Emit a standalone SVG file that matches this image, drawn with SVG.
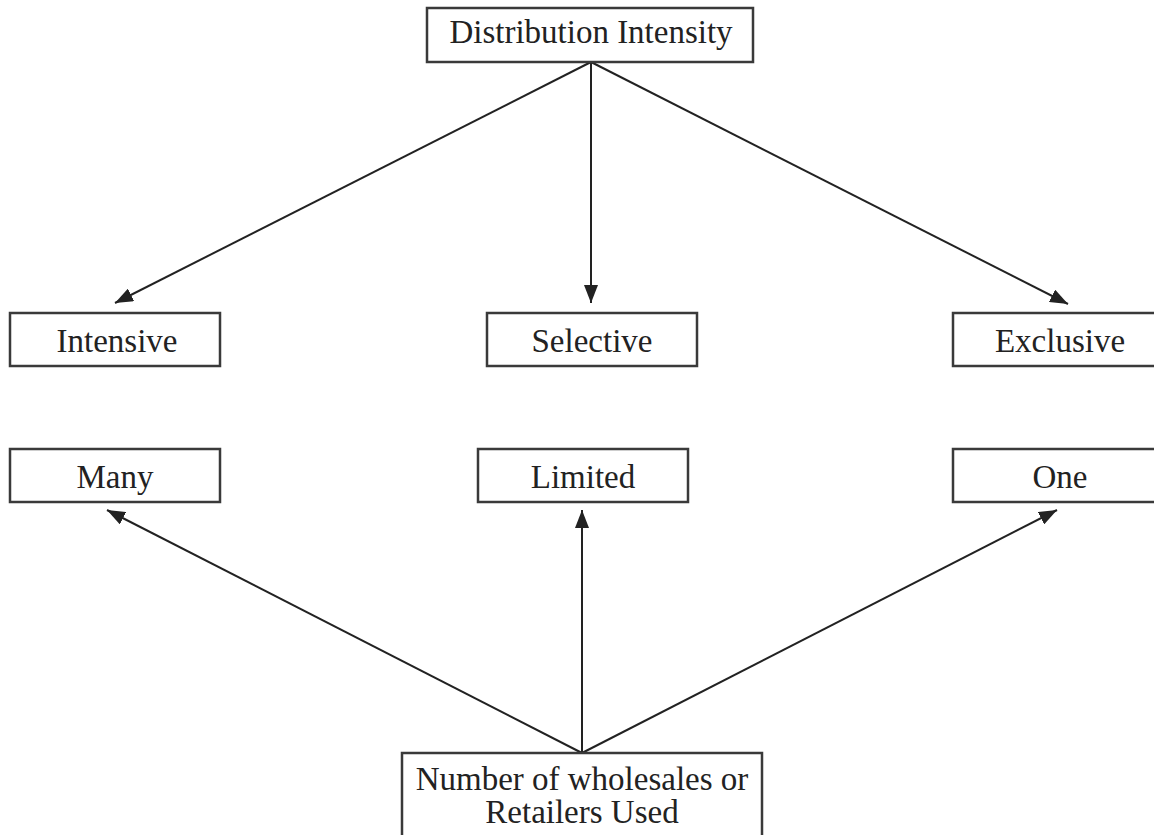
<svg xmlns="http://www.w3.org/2000/svg" width="1154" height="835" viewBox="0 0 1154 835">
<style>
.box{fill:#fff;stroke:#3a3a3a;stroke-width:2.5}
.lbl{font-family:"Liberation Serif","Times New Roman",serif;font-size:33px;fill:#222;text-anchor:middle}
.con{stroke:#222;stroke-width:2;fill:none;marker-end:url(#ah)}
</style>
<defs>
<marker id="ah" markerUnits="userSpaceOnUse" markerWidth="20" markerHeight="14" refX="18" refY="7" orient="auto">
<path d="M0,0 L18,7 L0,14 Z" fill="#222"/>
</marker>
</defs>
<rect width="1154" height="835" fill="#fff"/>
<g id="connectors">
<line class="con" x1="591" y1="62" x2="115" y2="303"/>
<line class="con" x1="591" y1="62" x2="591" y2="303"/>
<line class="con" x1="591" y1="62" x2="1068" y2="304"/>
<line class="con" x1="582" y1="753" x2="107" y2="510"/>
<line class="con" x1="582" y1="753" x2="582" y2="510"/>
<line class="con" x1="582" y1="753" x2="1057" y2="510"/>
</g>
<g id="n-distribution">
<rect class="box" x="427" y="8" width="326" height="54"/>
<text class="lbl" x="591" y="43">Distribution Intensity</text>
</g>
<g id="n-intensive">
<rect class="box" x="10" y="313" width="210" height="53"/>
<text class="lbl" x="117" y="352">Intensive</text>
</g>
<g id="n-selective">
<rect class="box" x="487" y="313" width="210" height="53"/>
<text class="lbl" x="592" y="352">Selective</text>
</g>
<g id="n-exclusive">
<rect class="box" x="953" y="313" width="214" height="53"/>
<text class="lbl" x="1060" y="352">Exclusive</text>
</g>
<g id="n-many">
<rect class="box" x="10" y="449" width="210" height="53"/>
<text class="lbl" x="115" y="488">Many</text>
</g>
<g id="n-limited">
<rect class="box" x="478" y="449" width="210" height="53"/>
<text class="lbl" x="583" y="488">Limited</text>
</g>
<g id="n-one">
<rect class="box" x="953" y="449" width="214" height="53"/>
<text class="lbl" x="1060" y="488">One</text>
</g>
<g id="n-number">
<rect class="box" x="402" y="753" width="360" height="100"/>
<text class="lbl" x="582" y="790">Number of wholesales or</text>
<text class="lbl" x="582" y="823">Retailers Used</text>
</g>
</svg>
